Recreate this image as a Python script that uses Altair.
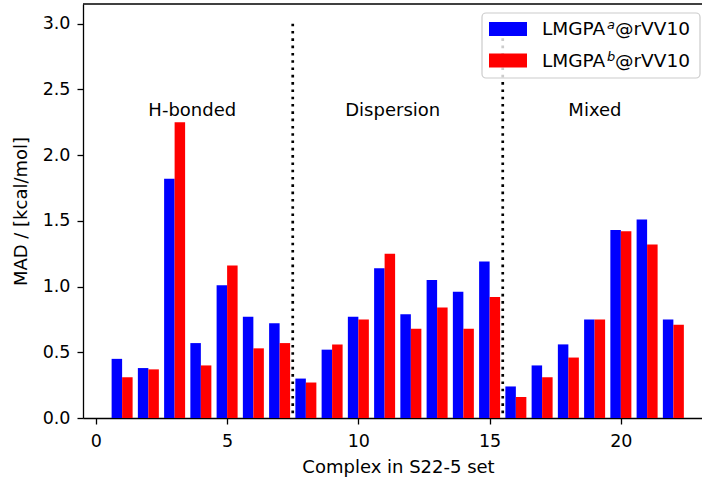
import altair as alt
import pandas as pd

# ---- data ----
complexes = list(range(1, 23))
mad_a = [0.45, 0.38, 1.82, 0.57, 1.01, 0.77, 0.72, 0.30, 0.52, 0.77, 1.14,
         0.79, 1.05, 0.96, 1.19, 0.24, 0.40, 0.56, 0.75, 1.43, 1.51, 0.75]
mad_b = [0.31, 0.37, 2.25, 0.40, 1.16, 0.53, 0.57, 0.27, 0.56, 0.75, 1.25,
         0.68, 0.84, 0.68, 0.92, 0.16, 0.31, 0.46, 0.75, 1.42, 1.32, 0.71]
series_keys = ["a", "b"]
series_colors = ["#0000ff", "#ff0000"]
x_ticks = [0, 5, 10, 15, 20]
y_ticks = [0.0, 0.5, 1.0, 1.5, 2.0, 2.5, 3.0]
separators = [7.5, 15.5]
separator_top = 3.0
group_labels = ["H-bonded", "Dispersion", "Mixed"]
group_label_x = [2.0, 9.5, 18.0]
group_label_y = [2.3, 2.3, 2.3]

FONT = "DejaVu Sans"
W, H = 619, 414

bars_df = pd.DataFrame({
    "complex": complexes * 2,
    "series": [series_keys[0]] * len(mad_a) + [series_keys[1]] * len(mad_b),
    "mad": mad_a + mad_b,
})
sep_df = pd.DataFrame({"x": separators, "top": [separator_top] * len(separators),
                       "bottom": [0.0] * len(separators)})
lab_df = pd.DataFrame({"x": group_label_x, "y": group_label_y, "text": group_labels})
one = pd.DataFrame({"k": [0]})

xscale = alt.Scale(domain=[-0.49, -0.49 + W / 26.25], nice=False, zero=False)
yscale = alt.Scale(domain=[0, 3.15], nice=False, zero=False)

xaxis = alt.Axis(values=x_ticks, format="d", grid=False, tickSize=6, tickWidth=1.3,
                 tickColor="black", domainColor="black", domainWidth=1.3,
                 labelFontSize=17.5, labelColor="black", labelFont=FONT,
                 labelBaseline="alphabetic", labelPadding=22, labelFlush=False,
                 title="Complex in S22-5 set", titleFont=FONT, titleFontSize=18,
                 titleFontWeight="normal", titleColor="black", titleX=315, titleY=54,
                 titleBaseline="alphabetic", titleAlign="center", titleAnchor="start")
yaxis = alt.Axis(values=y_ticks, format=".1f", grid=False, tickSize=6, tickWidth=1.3,
                 tickColor="black", domainColor="black", domainWidth=1.3,
                 labelFontSize=17.5, labelColor="black", labelFont=FONT,
                 labelBaseline="middle", labelPadding=7, labelFlush=False,
                 title="MAD / [kcal/mol]", titleFont=FONT, titleFontSize=18,
                 titleFontWeight="normal", titleColor="black", titleAngle=270,
                 titleX=-62, titleY=H / 2, titleBaseline="middle", titleAlign="center",
                 titleAnchor="start")

bars = alt.Chart(bars_df).transform_calculate(
    x0="datum.series == 'a' ? datum.complex - 0.4 : datum.complex",
    x1="datum.series == 'a' ? datum.complex : datum.complex + 0.4",
    y0="0",
).mark_rect().encode(
    x=alt.X("x0:Q", scale=xscale, axis=xaxis),
    x2="x1:Q",
    y=alt.Y("mad:Q", scale=yscale, axis=yaxis),
    y2="y0:Q",
    color=alt.Color("series:N", scale=alt.Scale(domain=series_keys, range=series_colors),
                    legend=None),
)

seps = alt.Chart(sep_df).mark_rule(color="black", strokeWidth=2.7,
                                   strokeDash=[2.6, 4.7]).encode(
    x="x:Q", y="top:Q", y2="bottom:Q")

labels = alt.Chart(lab_df).mark_text(align="left", baseline="alphabetic", fontSize=18,
                                     font=FONT, color="black").encode(
    x="x:Q", y="y:Q", text="text:N")

top_spine = alt.Chart(one).mark_rule(color="black", strokeWidth=1.3).encode(
    x=alt.value(0), x2=alt.value(W), y=alt.value(0))

# ---- legend (manual, matplotlib style) ----
legend_box = alt.Chart(one).mark_rect(cornerRadius=4, fill="white", fillOpacity=0.8,
                                      stroke="#cccccc", strokeWidth=1.2).encode(
    x=alt.value(399), x2=alt.value(617), y=alt.value(9), y2=alt.value(74))

legend_layers = [legend_box]
row_step = 31.5
for i, (key, col) in enumerate(zip(series_keys, series_colors)):
    y_top = 18 + i * row_step
    base_y = 31 + i * row_step
    legend_layers.append(alt.Chart(one).mark_rect(color=col).encode(
        x=alt.value(406), x2=alt.value(444), y=alt.value(y_top), y2=alt.value(y_top + 14)))
    legend_layers.append(alt.Chart(one).mark_text(
        align="left", baseline="alphabetic", fontSize=18.5, font=FONT, color="black",
        text="LMGPA").encode(x=alt.value(459), y=alt.value(base_y)))
    legend_layers.append(alt.Chart(one).mark_text(
        align="left", baseline="alphabetic", fontSize=13, font=FONT, fontStyle="italic",
        color="black", text=key).encode(x=alt.value(524), y=alt.value(base_y - 6)))
    legend_layers.append(alt.Chart(one).mark_text(
        align="left", baseline="alphabetic", fontSize=18.5, font=FONT, color="black",
        text="@rVV10").encode(x=alt.value(532), y=alt.value(base_y)))

chart = alt.layer(bars, seps, labels, top_spine, *legend_layers).properties(
    width=W, height=H,
    autosize=alt.AutoSizeParams(type="none"),
    padding={"left": 83, "top": 4, "right": 0, "bottom": 63},
    background="white",
).configure_view(strokeWidth=0)

chart.save("out.html", embed_options={"renderer": "svg", "actions": False})
